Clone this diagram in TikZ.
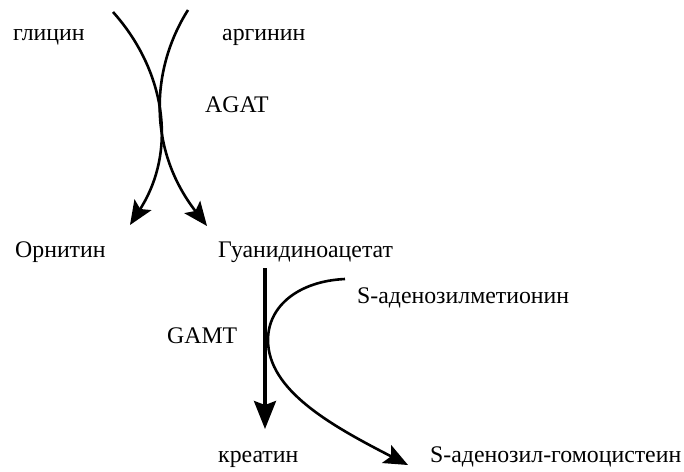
\documentclass[tikz,border=0pt]{standalone}
\usepackage{fontspec}
\setmainfont{Liberation Serif}
\usetikzlibrary{arrows.meta}
\begin{document}
\begin{tikzpicture}[x=1pt,y=-1pt,
  lbl/.style={anchor=base west,inner sep=0pt,font=\fontsize{23.8}{28}\selectfont},
  curve/.style={line width=2.6pt,-{Stealth[length=24pt,width=20pt,inset=5pt]}},
  thick arrow/.style={line width=3.4pt,-{Stealth[length=28pt,width=22pt,inset=4pt]}}]
\useasboundingbox (0,0) rectangle (684,471);
\node[lbl] (gly) at (13,40) {глицин};
\node[lbl] (arg) at (222,40) {аргинин};
\node[lbl] (agat) at (205,112) {AGAT};
\node[lbl] (orn) at (15,257) {Орнитин};
\node[lbl] (gua) at (218,257) {Гуанидиноацетат};
\node[lbl] (sam) at (357,303) {S-аденозилметионин};
\node[lbl] (gamt) at (167,343) {GAMT};
\node[lbl] (cre) at (218,462) {креатин};
\node[lbl] (sah) at (430,462) {S-аденозил-гомоцистеин};
\coordinate (c1s) at (113,12);
\coordinate (c1e) at (130,225);
\coordinate (c2s) at (188,10);
\coordinate (c2e) at (207,226);
\coordinate (c3s) at (345,279);
\coordinate (c3m) at (268,340);
\coordinate (c3e) at (408,465);
\coordinate (vs) at (265,268);
\coordinate (ve) at (265,429);
\draw[curve] (c1s) .. controls (165,70) and (178,150) .. (c1e);
\draw[curve] (c2s) .. controls (150,70) and (148,150) .. (c2e);
\draw[thick arrow] (vs) -- (ve);
\draw[curve] (c3s) .. controls (300,281) and (268,305) .. (c3m) .. controls (268,390) and (330,425) .. (c3e);
\end{tikzpicture}
\end{document}
